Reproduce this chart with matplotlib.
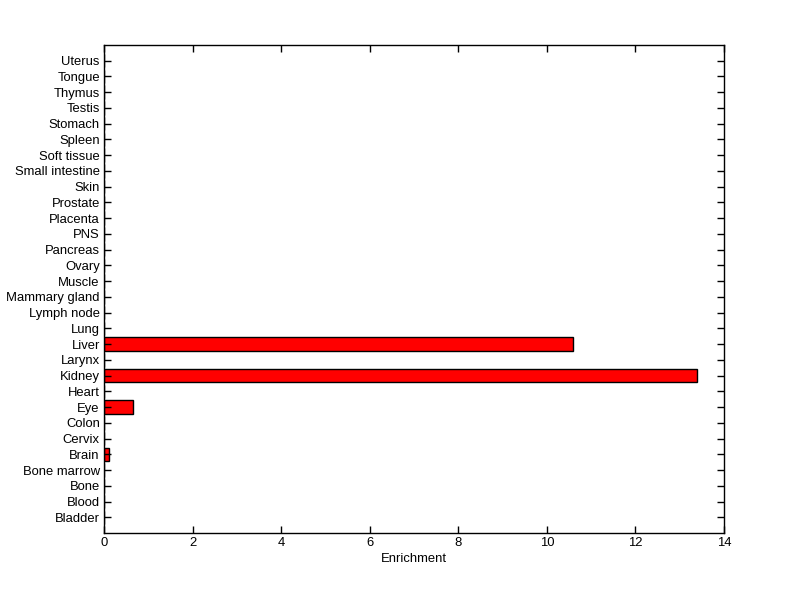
import matplotlib
matplotlib.use("Agg")
import matplotlib.pyplot as plt

tissues = ["Bladder", "Blood", "Bone", "Bone marrow", "Brain", "Cervix", "Colon", "Eye",
           "Heart", "Kidney", "Larynx", "Liver", "Lung", "Lymph node", "Mammary gland",
           "Muscle", "Ovary", "Pancreas", "PNS", "Placenta", "Prostate", "Skin",
           "Small intestine", "Soft tissue", "Spleen", "Stomach", "Testis", "Thymus",
           "Tongue", "Uterus"]
enrichment = [0, 0, 0, 0, 0.12, 0, 0, 0.66,
              0, 13.40, 0, 10.58, 0, 0, 0,
              0, 0, 0, 0, 0, 0, 0,
              0, 0, 0, 0, 0, 0,
              0, 0]
xticks = [0, 2, 4, 6, 8, 10, 12, 14]

plt.rcParams['font.family'] = ['Liberation Sans', 'DejaVu Sans']
fig = plt.figure(figsize=(8, 5.99), dpi=100, facecolor='white')
ax = fig.add_axes([0.13, 0.11, 0.775, 0.815])
pos = list(range(1, len(tissues) + 1))
ax.barh(pos, enrichment, height=0.85, color='#ff0000', edgecolor='black', linewidth=1)
ax.set_xlim(0, 14)
ax.set_ylim(0, len(tissues) + 1)
ax.set_yticks(pos)
ax.set_yticklabels(tissues, fontsize=9.4)
ax.set_xticks(xticks)
ax.set_xticklabels([str(t) for t in xticks], fontsize=9.4)
ax.set_xlabel("Enrichment", fontsize=9.4, labelpad=3)
ax.tick_params(direction='in', top=True, right=True, length=5, width=1, pad=3)
for s in ax.spines.values():
    s.set_linewidth(1)
fig.savefig("out.png", dpi=100, facecolor='white')
